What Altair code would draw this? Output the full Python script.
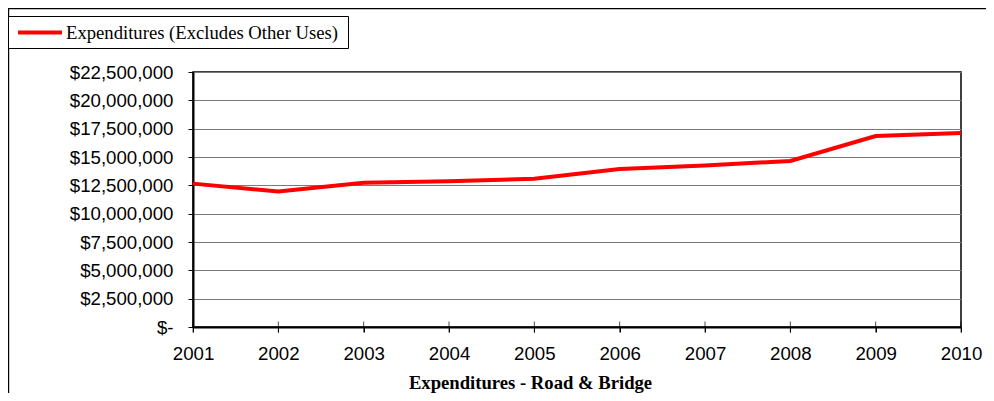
import altair as alt
import pandas as pd

years = [2001, 2002, 2003, 2004, 2005, 2006, 2007, 2008, 2009, 2010]
expenditures = [12650000, 11950000, 12720000, 12850000, 13080000,
                13950000, 14250000, 14650000, 16850000, 17120000]
series_name = "Expenditures (Excludes Other Uses)"
x_title = "Expenditures - Road & Bridge"
y_ticks = [0, 2500000, 5000000, 7500000, 10000000, 12500000,
           15000000, 17500000, 20000000, 22500000]

df = pd.DataFrame({"year": years, "value": expenditures})
one = pd.DataFrame({"series": [series_name]})

SANS = "Liberation Sans"
SERIF = "Liberation Serif"
FS = 18.67

x_enc = alt.X(
    "year:Q",
    scale=alt.Scale(domain=[years[0], years[-1]], nice=False, zero=False),
    axis=alt.Axis(
        values=years, format="d", grid=False, title=x_title,
        labelFont=SANS, labelFontSize=FS, labelColor="black", labelPadding=12,
        tickColor="black", tickSize=5, tickWidth=1,
        domainColor="black", domainWidth=2,
        titleFont=SERIF, titleFontSize=FS, titleFontWeight="bold", titleColor="black",
        titleX=337, titleY=61, titleAlign="center", titleBaseline="alphabetic",
        labelFlush=False, labelOverlap=False,
    ),
)
y_enc = alt.Y(
    "value:Q",
    scale=alt.Scale(domain=[0, 22500000], nice=False),
    axis=alt.Axis(
        values=y_ticks, title=None,
        labelExpr="datum.value == 0 ? '$-' : '$' + format(datum.value, ',')",
        labelFont=SANS, labelFontSize=FS, labelColor="black", labelPadding=15,
        tickColor="black", tickSize=5, tickWidth=1,
        domainColor="black", domainWidth=2,
        grid=True, gridColor="#7a7a7a", gridWidth=1,
        labelOverlap=False, labelFlush=False,
    ),
)

line = alt.Chart(df).mark_line(color="#ff0000", strokeWidth=4).encode(x=x_enc, y=y_enc)

xticks = alt.Chart(df).mark_tick(orient="vertical", size=11, thickness=1, color="black").encode(
    x=alt.X("year:Q"), y=alt.value(255)
)

# outer frame (left and top edges)
frame_left = alt.Chart(one).mark_rule(color="black", strokeWidth=1.2).encode(
    x=alt.value(-184.4), y=alt.value(-64), y2=alt.value(321)
)
frame_top = alt.Chart(one).mark_rule(color="black", strokeWidth=1.2).encode(
    x=alt.value(-185), x2=alt.value(793), y=alt.value(-63.4)
)

# legend box
leg_box = alt.Chart(one).mark_rect(fill="white", stroke="black", strokeWidth=1).encode(
    x=alt.value(-184.5), x2=alt.value(155.5), y=alt.value(-55.5), y2=alt.value(-23.5)
)
leg_line = alt.Chart(one).mark_rule(color="#ff0000", strokeWidth=4).encode(
    x=alt.value(-175), x2=alt.value(-131), y=alt.value(-39.5)
)
leg_text = alt.Chart(one).mark_text(
    font=SERIF, fontSize=FS, color="black", align="left", baseline="alphabetic"
).encode(x=alt.value(-127), y=alt.value(-33), text="series:N")

chart = alt.layer(
    line, xticks, frame_left, frame_top, leg_box, leg_line, leg_text
).properties(
    width=768, height=255,
    background="white",
    autosize=alt.AutoSizeParams(type="none"),
    padding={"left": 185, "top": 64, "right": 25, "bottom": 66},
).configure_view(
    stroke="black", strokeWidth=1.5
)

chart.save("out.html", embed_options={"renderer": "svg", "actions": False})
